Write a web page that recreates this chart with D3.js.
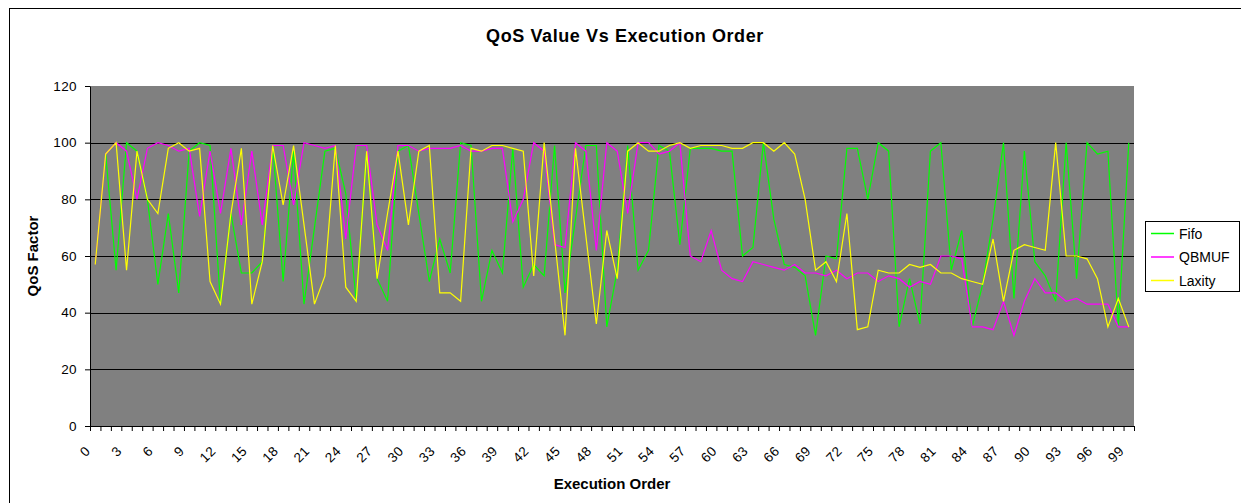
<!DOCTYPE html>
<html>
<head>
<meta charset="utf-8">
<script src="https://cdn.jsdelivr.net/npm/d3@7"></script>
<style>
  body { margin: 0; background: #fff; }
  svg { display: block; font-family: "Liberation Sans", Arial, sans-serif; }
</style>
</head>
<body>
<svg id="chart" width="1241" height="503"></svg>
<script>
// execution order 0..99 on the category axis
const order = d3.range(0, 100);
const xTickLabels = order.filter(d => d % 3 === 0);
const yTicks = [0, 20, 40, 60, 80, 100, 120];

// QoS values
const fifo = [
  57, 96, 55, 100, 97, 80, 50, 75, 47, 97,
  100, 99, 43, 75, 54, 54, 58, 99, 51, 97,
  43, 70, 97, 98, 82, 44, 97, 52, 44, 97,
  99, 75, 51, 66, 54, 100, 99, 44, 62, 54,
  98, 49, 57, 53, 99, 47, 73, 99, 99, 35,
  55, 99, 55, 62, 99, 97, 64, 98, 98, 98,
  97, 97, 60, 63, 100, 73, 57, 56, 53, 32,
  60, 59, 98, 98, 80, 100, 97, 35, 52, 36,
  97, 100, 55, 69, 35, 50, 73, 100, 45, 97,
  58, 53, 44, 100, 52, 100, 96, 97, 35, 100
];
const qbmuf = [
  57, 96, 100, 97, 80, 98, 100, 99, 97, 98,
  74, 97, 75, 98, 71, 97, 71, 99, 99, 78,
  100, 99, 98, 99, 66, 99, 99, 71, 62, 99,
  99, 97, 98, 98, 98, 99, 97, 97, 98, 98,
  72, 80, 100, 97, 64, 63, 100, 97, 62, 100,
  97, 75, 100, 100, 96, 97, 100, 60, 58, 69,
  55, 52, 51, 58, 57, 56, 55, 57, 54, 54,
  53, 55, 52, 54, 54, 51, 53, 52, 49, 51,
  50, 60, 60, 59, 35, 35, 34, 44, 32, 44,
  52, 47, 47, 44, 45, 43, 43, 43, 35, 35
];
const laxity = [
  57, 96, 100, 55, 97, 80, 75, 98, 100, 97,
  98, 51, 43, 75, 98, 43, 58, 99, 78, 99,
  71, 43, 53, 99, 49, 44, 97, 52, 75, 97,
  71, 97, 99, 47, 47, 44, 98, 97, 99, 99,
  98, 97, 53, 100, 66, 32, 98, 67, 36, 69,
  52, 97, 100, 97, 97, 99, 100, 98, 99, 99,
  99, 98, 98, 100, 100, 97, 100, 96, 80, 55,
  58, 51, 75, 34, 35, 55, 54, 54, 57, 56,
  57, 54, 54, 52, 51, 50, 66, 44, 62, 64,
  63, 62, 100, 60, 60, 59, 52, 35, 45, 35
];

const seriesNames = ["Fifo", "QBMUF", "Laxity"];
const seriesColors = ["#00ff00", "#ff00ff", "#ffff00"];
const seriesValues = [fifo, qbmuf, laxity];

const svg = d3.select("#chart"),
      margin = { top: 86, right: 107, bottom: 77, left: 90 },
      width  = +svg.attr("width")  - margin.left - margin.right,
      height = +svg.attr("height") - margin.top  - margin.bottom;

// outer chart frame (runs off the right and bottom of the picture)
svg.append("rect")
  .attr("x", 9.5).attr("y", 8.5)
  .attr("width", 1300).attr("height", 600)
  .attr("fill", "#fff")
  .attr("stroke", "#000");

const g = svg.append("g")
  .attr("transform", `translate(${margin.left},${margin.top})`);

const x = d3.scaleBand().domain(order).range([0, width]);
const xEdge = d3.scaleLinear().domain([0, order.length]).range([0, width]);
const y = d3.scaleLinear().domain([0, 120]).range([height, 0]);

// plot area
g.append("rect")
  .attr("width", width).attr("height", height)
  .attr("fill", "#808080");

// gridlines
g.append("g")
  .selectAll("line")
  .data(yTicks.filter(d => d > 0 && d < 120))
  .join("line")
  .attr("x1", 0).attr("x2", width)
  .attr("y1", d => Math.round(y(d)) + 0.5)
  .attr("y2", d => Math.round(y(d)) + 0.5)
  .attr("stroke", "#000");

// y axis
const yAxis = g.append("g")
  .call(d3.axisLeft(y).tickValues(yTicks).tickSize(5).tickSizeOuter(0).tickPadding(8));
yAxis.selectAll("text")
  .attr("font-size", 13.5)
  .attr("letter-spacing", "0.4px")
  .attr("fill", "#000");

// x axis: tick marks between categories, labels every third one
const xAxis = g.append("g")
  .attr("transform", `translate(0,${height})`)
  .call(d3.axisBottom(xEdge).tickValues(d3.range(0, order.length + 1)).tickSize(5).tickSizeOuter(0).tickFormat(""));
xAxis.select(".domain").attr("stroke", "#000");

g.append("g")
  .selectAll("text")
  .data(xTickLabels)
  .join("text")
  .attr("transform", d => `translate(${x(d) + x.bandwidth() / 2 - 4},${height + 26}) rotate(-45)`)
  .attr("text-anchor", "end")
  .attr("font-size", 13.5)
  .attr("letter-spacing", "0.4px")
  .text(d => d);

// series lines
const line = d3.line()
  .x((d, i) => x(order[i]) + x.bandwidth() / 2)
  .y(d => y(d));

seriesValues.forEach((vals, k) => {
  g.append("path")
    .datum(vals)
    .attr("fill", "none")
    .attr("stroke", seriesColors[k])
    .attr("stroke-width", 1.2)
    .attr("d", line);
});

// titles
svg.append("text")
  .attr("x", 625).attr("y", 42)
  .attr("text-anchor", "middle")
  .attr("font-size", 18)
  .attr("font-weight", "bold")
  .attr("letter-spacing", "0.6px")
  .text("QoS Value Vs Execution Order");

svg.append("text")
  .attr("x", margin.left + width / 2).attr("y", 489)
  .attr("text-anchor", "middle")
  .attr("font-size", 15)
  .attr("font-weight", "bold")
  .text("Execution Order");

svg.append("text")
  .attr("transform", `translate(38,${margin.top + height / 2}) rotate(-90)`)
  .attr("text-anchor", "middle")
  .attr("font-size", 15)
  .attr("font-weight", "bold")
  .text("QoS Factor");

// legend
const legend = svg.append("g").attr("transform", "translate(1145,221)");
legend.append("rect")
  .attr("x", 0.5).attr("y", 0.5)
  .attr("width", 94).attr("height", 70)
  .attr("fill", "#fff")
  .attr("stroke", "#000");

const items = legend.selectAll(".item")
  .data(seriesNames)
  .join("g")
  .attr("class", "item")
  .attr("transform", (d, i) => `translate(0,${12.5 + i * 23.5})`);
items.append("line")
  .attr("x1", 6).attr("x2", 29)
  .attr("stroke", (d, i) => seriesColors[i])
  .attr("stroke-width", 1.5);
items.append("text")
  .attr("x", 34)
  .attr("dy", "0.36em")
  .attr("font-size", 14)
  .text(d => d);
</script>
</body>
</html>
